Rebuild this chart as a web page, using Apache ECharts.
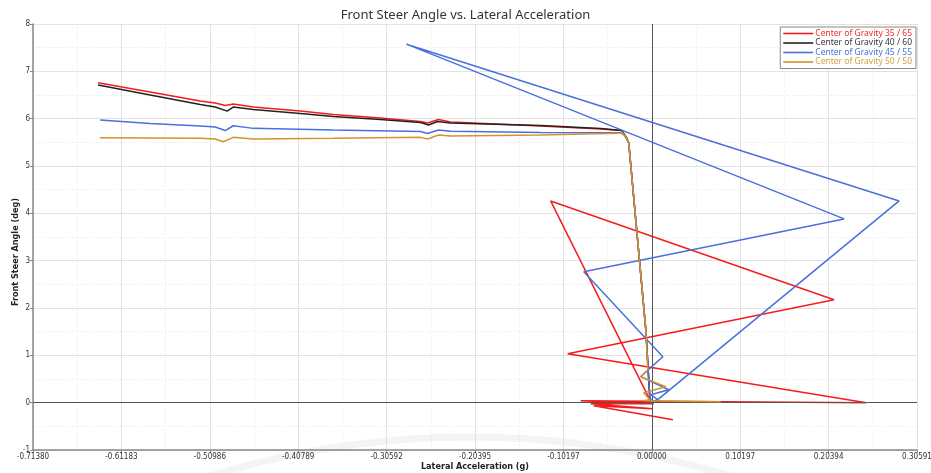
<!DOCTYPE html>
<html>
<head>
<meta charset="utf-8">
<script src="https://cdn.jsdelivr.net/npm/echarts@6/dist/echarts.min.js"></script>
<style>
html,body{margin:0;padding:0;background:#fff;}
#chart{width:931px;height:473px;}
</style>
</head>
<body>
<div id="chart"></div>
<script>
// ---- data ----
const seriesNames = ['Center of Gravity 35 / 65','Center of Gravity 40 / 60','Center of Gravity 45 / 55','Center of Gravity 50 / 50'];
const seriesColors = ['#f41c1c','#222222','#4a70dc','#d49428'];
const legendTextColors = ['#f42a2a','#333333','#4a70dc','#d4a040'];

const xTickLabels = ['-0.71380','-0.61183','-0.50986','-0.40789','-0.30592','-0.20395','-0.10197','0.00000','0.10197','0.20394','0.30591'];
const yTickLabels = ['-1','0','1','2','3','4','5','6','7','8'];

const cg35 = [
 [-0.6387,6.757],[-0.5787,6.561],[-0.5209,6.371],[-0.5036,6.329],[-0.4920,6.276],[-0.4828,6.308],
 [-0.4597,6.245],[-0.4054,6.160],[-0.3673,6.086],[-0.3130,6.013],[-0.2668,5.939],[-0.2587,5.907],
 [-0.2460,5.981],[-0.2322,5.928],[-0.1282,5.844],[-0.0589,5.781],[-0.0347,5.749],[-0.0289,5.591],
 [-0.0266,5.485],[-0.0185,3.861],[-0.0069,1.540],[-0.0023,0.105],[-0.0012,0.021],
 [-0.1167,4.262],[0.2102,2.173],[-0.0970,1.034],[0.2472,0.000],[-0.0820,0.042],
 [0.0023,-0.021],[-0.0705,-0.021],[0.0012,-0.127],[-0.0670,-0.063],[0.0243,-0.359]
];
const cg40 = [
 [-0.6387,6.709],[-0.5787,6.498],[-0.5209,6.297],[-0.5036,6.245],[-0.4898,6.160],[-0.4828,6.245],
 [-0.4597,6.192],[-0.4054,6.108],[-0.3673,6.044],[-0.3130,5.981],[-0.2668,5.918],[-0.2576,5.865],
 [-0.2472,5.939],[-0.2322,5.907],[-0.1282,5.854],[-0.0589,5.791],[-0.0347,5.749],[-0.0289,5.591],
 [-0.0266,5.485],[-0.0185,3.861],[-0.0069,1.540],[-0.0023,0.105],[0.0000,0.020]
];
const cg45 = [
 [-0.6364,5.970],[-0.5787,5.897],[-0.5209,5.844],[-0.5036,5.823],[-0.4920,5.749],[-0.4828,5.850],
 [-0.4597,5.795],[-0.3673,5.759],[-0.2668,5.728],[-0.2587,5.686],[-0.2460,5.759],[-0.2322,5.732],
 [-0.1282,5.707],[-0.0358,5.703],[-0.0310,5.640],[-0.0266,5.485],[-0.0185,3.861],[-0.0069,1.540],
 [-0.0023,0.105],[0.0000,0.020],[0.0069,0.063],
 [0.2853,4.262],[-0.2830,7.574],[0.2218,3.882],[-0.0785,2.764],[0.0127,0.970],[-0.0127,0.549],
 [0.0196,0.274],[-0.0012,0.169],[0.0069,0.063]
];
const cg50 = [
 [-0.6364,5.597],[-0.5209,5.584],[-0.5036,5.570],[-0.4943,5.513],[-0.4828,5.605],[-0.4597,5.570],
 [-0.3673,5.584],[-0.2668,5.605],[-0.2587,5.570],[-0.2460,5.654],[-0.2322,5.633],[-0.1282,5.654],
 [-0.0381,5.690],[-0.0347,5.717],[-0.0289,5.591],[-0.0266,5.485],[-0.0185,3.861],[-0.0069,1.540],
 [-0.0046,0.696],[-0.0127,0.549],[0.0162,0.338],[-0.0092,0.211],[-0.0023,0.063],[-0.0104,0.042],[0.0797,0.021]
];

const xMin = -0.71380, xMax = 0.30591;
const xStep = (0 - xMin) / 7;
const yMin = -1, yMax = 8, yStep = 1;

// ---- chart ----
const chart = echarts.init(document.getElementById('chart'), null, {renderer:'canvas'});
const dataSets = [cg35, cg40, cg45, cg50];
const font = "'Noto Sans', 'Open Sans', sans-serif";
const narrow = "'Liberation Sans Narrow', 'DejaVu Sans Condensed', 'Roboto Condensed', sans-serif";

const series = dataSets.map((d, i) => ({
  name: seriesNames[i],
  type: 'line',
  data: d,
  showSymbol: false,
  symbol: 'none',
  smooth: false,
  animation: false,
  lineStyle: {color: seriesColors[i], width: 1.5},
  itemStyle: {color: seriesColors[i]},
  z: 3 + i
}));
series.unshift({
  name: 'zero',
  type: 'line',
  data: [],
  silent: true,
  markLine: {
    silent: true, symbol: 'none', animation: false,
    label: {show: false},
    lineStyle: {color: '#555', width: 1, type: 'solid'},
    data: [{xAxis: 0}, {yAxis: 0}]
  },
  z: 2
});

chart.setOption({
  backgroundColor: '#ffffff',
  animation: false,
  graphic: [{
    type: 'arc', silent: true, z: -10,
    shape: {cx: 470, cy: 1323, r: 886, startAngle: Math.PI * 1.32, endAngle: Math.PI * 1.68},
    style: {stroke: '#f4f4f4', lineWidth: 7, fill: null}
  }],
  title: {
    text: 'Front Steer Angle vs. Lateral Acceleration',
    left: 'center', top: 4,
    textStyle: {fontFamily: font, fontSize: 13, fontWeight: 'normal', color: '#333'}
  },
  legend: {
    orient: 'vertical',
    right: 15, top: 27,
    backgroundColor: '#fff',
    borderColor: '#888', borderWidth: 1,
    padding: [2, 4, 2, 3],
    itemGap: 0.5,
    itemWidth: 30, itemHeight: 1.6,
    icon: 'rect',
    data: seriesNames.map((n, i) => ({name: n, icon: 'rect', textStyle: {color: legendTextColors[i]}})),
    textStyle: {fontFamily: font, fontSize: 8.5, lineHeight: 7, padding: [0,0,0,-3]}
  },
  grid: {left: 33, right: 14, top: 24, bottom: 23, containLabel: false, outerBoundsMode: 'none'},
  xAxis: {
    type: 'value', min: xMin, max: xMax, interval: xStep,
    name: 'Lateral Acceleration (g)', nameLocation: 'middle', nameGap: 12, nameMoveOverlap: false,
    nameTextStyle: {fontFamily: narrow, fontSize: 9, fontWeight: 'bold', color: '#222'},
    axisLine: {show: true, onZero: false, lineStyle: {color: '#888', width: 1.5}},
    axisTick: {show: true, length: 3, lineStyle: {color: '#888'}},
    axisLabel: {
      fontFamily: narrow, fontSize: 8, color: '#333', margin: 3,
      showMinLabel: true, showMaxLabel: true,
      formatter: v => xTickLabels[Math.round((v - xMin) / xStep)] ?? ''
    },
    splitLine: {show: true, lineStyle: {color: '#e2e2e2', width: 1}},
    minorTick: {show: false, splitNumber: 2},
    minorSplitLine: {show: true, lineStyle: {color: '#e6e6e6', width: 1, type: [1, 2]}}
  },
  yAxis: {
    type: 'value', min: yMin, max: yMax, interval: yStep,
    name: 'Front Steer Angle (deg)', nameLocation: 'middle', nameGap: 12.5, nameMoveOverlap: false,
    nameTextStyle: {fontFamily: narrow, fontSize: 9, fontWeight: 'bold', color: '#222', padding: [0, 30, 0, 0]},
    axisLine: {show: true, onZero: false, lineStyle: {color: '#888', width: 1.5}},
    axisTick: {show: true, length: 3, lineStyle: {color: '#888'}},
    axisLabel: {
      fontFamily: narrow, fontSize: 8, color: '#333', margin: 3,
      formatter: v => yTickLabels[Math.round((v - yMin) / yStep)] ?? ''
    },
    splitLine: {show: true, lineStyle: {color: '#e2e2e2', width: 1}},
    minorTick: {show: false, splitNumber: 2},
    minorSplitLine: {show: true, lineStyle: {color: '#e6e6e6', width: 1, type: [1, 2]}}
  },
  series: series
});
</script>
</body>
</html>
